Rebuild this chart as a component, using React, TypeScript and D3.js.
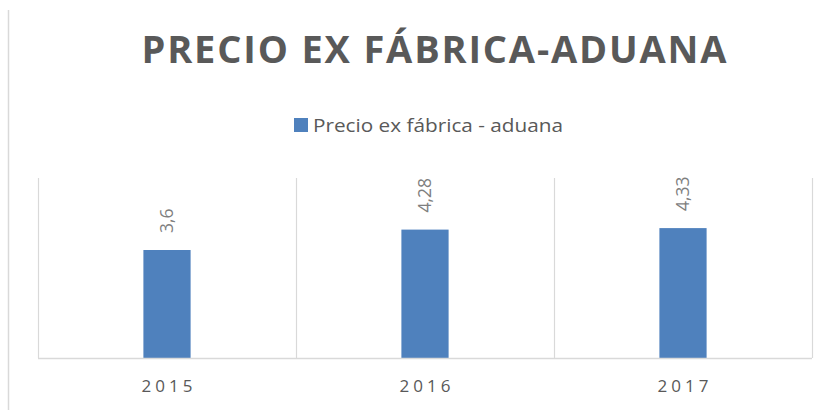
import { useEffect, useRef } from "react";
import * as d3 from "d3";

const years = ["2015", "2016", "2017"];
const prices = [3.6, 4.28, 4.33];
const seriesName = "Precio ex fábrica - aduana";
const chartTitle = "PRECIO EX FÁBRICA-ADUANA";

export default function App() {
  const svgRef = useRef<SVGSVGElement>(null);

  useEffect(() => {
    if (!svgRef.current) return;
    const svg = d3.select(svgRef.current);
    svg.selectAll("*").remove();

    const width = 831;
    const height = 410;
    const margin = { top: 178, right: 19, bottom: 52, left: 38 };
    const font = "'Open Sans', 'DejaVu Sans', sans-serif";

    svg.attr("width", width).attr("height", height);

    // outer border (left edge only visible)
    svg.append("line")
      .attr("x1", 8.5).attr("x2", 8.5)
      .attr("y1", 10).attr("y2", height)
      .attr("stroke", "#d9d9d9")
      .attr("stroke-width", 1.5);

    // title
    svg.append("text")
      .attr("x", 434)
      .attr("y", 63)
      .attr("text-anchor", "middle")
      .attr("font-family", font)
      .attr("font-weight", "bold")
      .attr("font-size", 38)
      .attr("fill", "#595959")
      .attr("textLength", 585)
      .attr("lengthAdjust", "spacing")
      .text(chartTitle);

    // legend
    svg.append("rect")
      .attr("x", 294).attr("y", 118)
      .attr("width", 14).attr("height", 14)
      .attr("fill", "#4f81bd");
    svg.append("text")
      .attr("x", 313)
      .attr("y", 132)
      .attr("font-family", font)
      .attr("font-size", 19)
      .attr("fill", "#595959")
      .attr("textLength", 250)
      .attr("lengthAdjust", "spacingAndGlyphs")
      .text(seriesName);

    const x = d3.scaleBand()
      .domain(years)
      .range([margin.left, width - margin.right]);

    const y = d3.scaleLinear()
      .domain([0, 6])
      .range([height - margin.bottom, margin.top]);

    // vertical gridlines between categories
    const edges = [...years.map(d => x(d) as number), x.range()[1]];
    svg.append("g")
      .selectAll("line")
      .data(edges)
      .enter()
      .append("line")
      .attr("x1", d => d + 0.5)
      .attr("x2", d => d + 0.5)
      .attr("y1", y(6))
      .attr("y2", y(0))
      .attr("stroke", "#d9d9d9")
      .attr("stroke-width", 1.2);

    // bars
    const barW = x.bandwidth() * 0.183;
    svg.append("g")
      .selectAll("rect")
      .data(prices)
      .enter()
      .append("rect")
      .attr("x", (_, i) => (x(years[i]) as number) + x.bandwidth() / 2 - barW / 2)
      .attr("y", d => y(d))
      .attr("width", barW)
      .attr("height", d => y(0) - y(d))
      .attr("fill", "#4f81bd");

    // data labels
    svg.append("g")
      .selectAll("text")
      .data(prices)
      .enter()
      .append("text")
      .attr("transform", (d, i) => {
        const cx = (x(years[i]) as number) + x.bandwidth() / 2 + 6;
        return `translate(${cx},${y(d) - 17}) rotate(-90)`;
      })
      .attr("font-family", font)
      .attr("font-size", 17.5)
      .attr("fill", "#7f7f7f")
      .text(d => d.toString().replace(".", ","));

    // baseline
    svg.append("line")
      .attr("x1", margin.left)
      .attr("x2", width - margin.right)
      .attr("y1", y(0) + 0.5)
      .attr("y2", y(0) + 0.5)
      .attr("stroke", "#d9d9d9")
      .attr("stroke-width", 1.5);

    // category labels
    svg.append("g")
      .selectAll("text")
      .data(years)
      .enter()
      .append("text")
      .attr("x", d => (x(d) as number) + x.bandwidth() / 2 + 2)
      .attr("y", 392)
      .attr("text-anchor", "middle")
      .attr("font-family", font)
      .attr("font-size", 17)
      .attr("letter-spacing", 4)
      .attr("fill", "#595959")
      .text(d => d);
  }, []);

  return (
    <div style={{ position: "fixed", left: 0, top: 0, width: 831, height: 410, background: "#fff" }}>
      <svg ref={svgRef}></svg>
    </div>
  );
}
